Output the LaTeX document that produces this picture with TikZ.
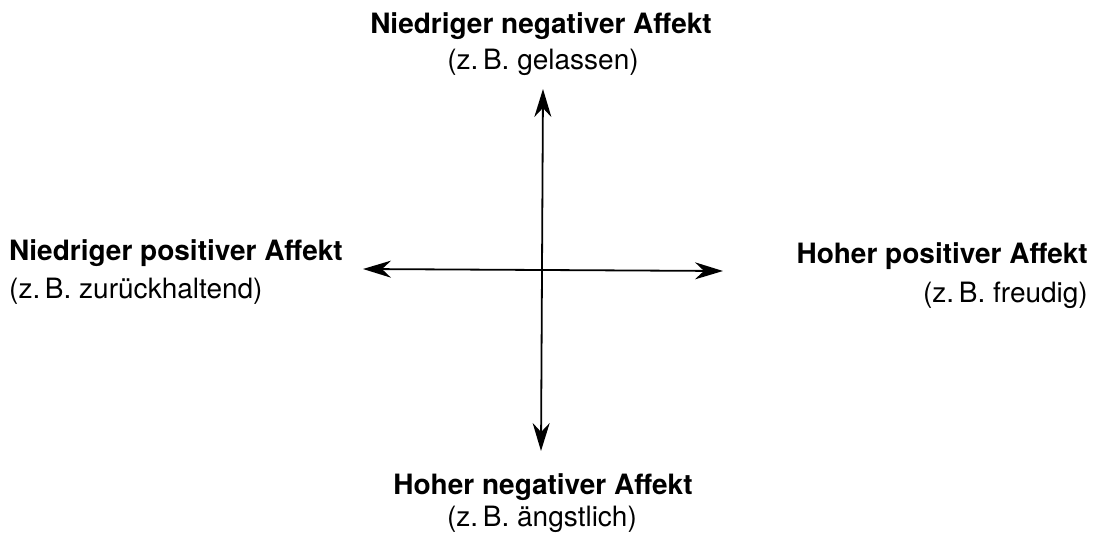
\documentclass[tikz,border=0pt]{standalone}
\usepackage{fontspec}
\setmainfont{TeX Gyre Heros}
\usetikzlibrary{arrows.meta}
\begin{document}
\begin{tikzpicture}[x=1pt,y=-1pt,
  lbl/.style={inner sep=0pt,font=\fontsize{28}{33}\selectfont},
  hd/.style={lbl,font=\fontsize{28}{33}\selectfont\bfseries},
  axis/.style={line width=1.8pt,{Stealth[length=28pt,width=17pt,inset=9pt]}-{Stealth[length=28pt,width=17pt,inset=9pt]}}]
\useasboundingbox (0,0) rectangle (1093,533);
\coordinate (top) at (543,89);
\coordinate (bot) at (541,451);
\coordinate (lft) at (363,269);
\coordinate (rgt) at (723,271);
\draw[axis] (top) -- (bot);
\draw[axis] (lft) -- (rgt);
\node[hd,anchor=base] (t1) at (541,33) {Niedriger negativer Affekt};
\node[lbl,anchor=base] (t2) at (543,69) {(z.\,B. gelassen)};
\node[hd,anchor=base west] (l1) at (9,260) {Niedriger positiver Affekt};
\node[lbl,anchor=base west] (l2) at (9,298) {(z.\,B. zurückhaltend)};
\node[hd,anchor=base east] (r1) at (1088,263) {Hoher positiver Affekt};
\node[lbl,anchor=base east] (r2) at (1088,302) {(z.\,B. freudig)};
\node[hd,anchor=base] (b1) at (543,494) {Hoher negativer Affekt};
\node[lbl,anchor=base] (b2) at (542,526) {(z.\,B. ängstlich)};
\end{tikzpicture}
\end{document}
